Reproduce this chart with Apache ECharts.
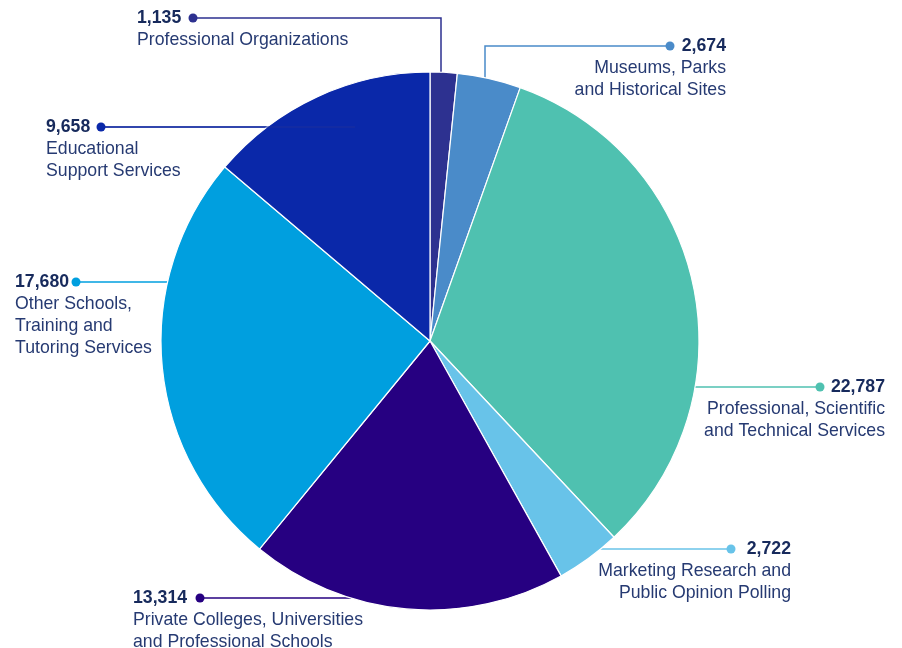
<!DOCTYPE html>
<html>
<head>
<meta charset="utf-8">
<script src="https://cdn.jsdelivr.net/npm/echarts@6/dist/echarts.min.js"></script>
<style>
  html, body { margin: 0; padding: 0; background: #fff; }
  #chart { width: 902px; height: 648px; }
</style>
</head>
<body>
<div id="chart"></div>
<script>
// categories and values, clockwise from 12 o'clock
var categories = [
    'Professional Organizations',
    'Museums, Parks\nand Historical Sites',
    'Professional, Scientific\nand Technical Services',
    'Marketing Research and\nPublic Opinion Polling',
    'Private Colleges, Universities\nand Professional Schools',
    'Other Schools,\nTraining and\nTutoring Services',
    'Educational\nSupport Services'
];
var values = [1135, 2674, 22787, 2722, 13314, 17680, 9658];
var colors = ['#2d3190', '#4a8bc9', '#4fc1b0', '#68c3e9', '#260081', '#009fdf', '#0a28a9'];

// label placement: text anchor, dot and leader line points
var labelPos = [
    { x: 137, y: 18,  align: 'left',  dot: [193, 18],  line: [[441, 72], [441, 18], [193, 18]] },
    { x: 726, y: 46,  align: 'right', dot: [670, 46],  line: [[485, 78], [485, 46], [670, 46]] },
    { x: 885, y: 387, align: 'right', dot: [820, 387], line: [[695, 387], [695, 387], [820, 387]] },
    { x: 791, y: 549, align: 'right', dot: [731, 549], line: [[600, 549], [600, 549], [731, 549]] },
    { x: 133, y: 598, align: 'left',  dot: [200, 598], line: [[351, 598], [351, 598], [200, 598]] },
    { x: 15,  y: 282, align: 'left',  dot: [76, 282],  line: [[167, 282], [167, 282], [76, 282]] },
    { x: 46,  y: 127, align: 'left',  dot: [101, 127], line: [[355, 127], [355, 127], [101, 127]] }
];

var chart = echarts.init(document.getElementById('chart'));

var pieData = categories.map(function (name, i) {
    return {
        name: name,
        value: values[i],
        itemStyle: { color: colors[i] },
        labelLine: { lineStyle: { color: colors[i] } }
    };
});

// dots at the end of the leader lines
var dots = labelPos.map(function (p, i) {
    return {
        type: 'circle',
        shape: { cx: p.dot[0], cy: p.dot[1], r: 4.5 },
        style: { fill: colors[i] },
        z: 100
    };
});

// the educational line runs a little into its own slice
var inner = labelPos[6];
dots.push({
    type: 'line',
    shape: { x1: inner.line[0][0], y1: inner.line[0][1], x2: inner.line[2][0], y2: inner.line[2][1] },
    style: { stroke: '#1d2f9c', lineWidth: 1 },
    z: 99
});

var option = {
    backgroundColor: '#fff',
    animation: false,
    graphic: dots,
    series: [{
        type: 'pie',
        center: [430, 341],
        radius: 269,
        startAngle: 90,
        clockwise: true,
        itemStyle: { borderColor: '#fff', borderWidth: 1.2 },
        label: {
            show: true,
            position: 'outside',
            overflow: 'none',
            fontFamily: 'Liberation Sans',
            formatter: function (p) {
                var lines = p.name.split('\n').map(function (s) { return '{n|' + s + '}'; });
                return '{v|' + p.value.toLocaleString('en-US') + '}\n' + lines.join('\n');
            },
            rich: {
                v: { fontSize: 17.7, fontWeight: 'bold', color: '#172a5c', lineHeight: 22, fontFamily: 'Liberation Sans' },
                n: { fontSize: 17.7, color: '#263a72', lineHeight: 22, fontFamily: 'Liberation Sans' }
            }
        },
        labelLine: { show: true, lineStyle: { width: 1.5 } },
        labelLayout: function (params) {
            var p = labelPos[params.dataIndex];
            return {
                x: p.x,
                y: p.y - 11,
                align: p.align,
                verticalAlign: 'top',
                labelLinePoints: p.line
            };
        },
        data: pieData
    }]
};

chart.setOption(option);
</script>
</body>
</html>
